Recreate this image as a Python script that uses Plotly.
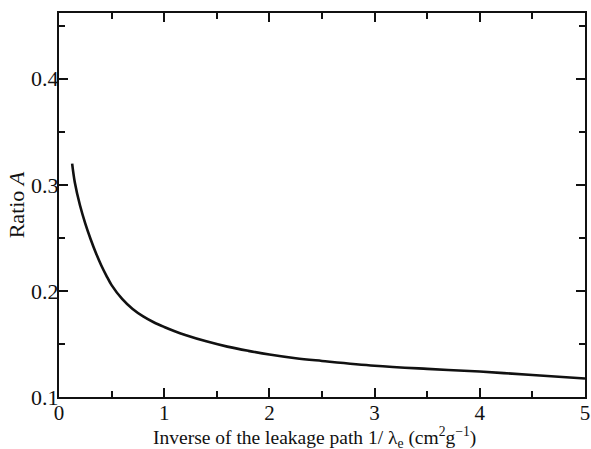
import plotly.graph_objects as go

inv_leak = [0.125, 0.15, 0.2, 0.25, 0.3, 0.35, 0.4, 0.45, 0.5, 0.6, 0.7, 0.8, 0.9, 1.0, 1.1, 1.2,
            1.4, 1.6, 1.8, 2.0, 2.25, 2.5, 3.0, 3.5, 4.0, 4.5, 5.0]
ratio_a = [0.320, 0.3025, 0.2805, 0.2635, 0.249, 0.236, 0.2245, 0.2145, 0.2055, 0.1925, 0.183, 0.176,
           0.1705, 0.166, 0.162, 0.1585, 0.1525, 0.1475, 0.1435, 0.140, 0.1365, 0.134, 0.1295, 0.1265,
           0.124, 0.1207, 0.1175]

x_ticks = [0, 1, 2, 3, 4, 5]
y_ticks = [0.1, 0.2, 0.3, 0.4]
y_tick_text = ["0.1", "0.2", "0.3", "0.4"]
x_title = "Inverse of the leakage path 1/ λ<sub>e</sub> (cm<sup>2</sup>g<sup>−1</sup>)"
y_title = "Ratio <i>A</i>"

font_family = "Liberation Serif, Times New Roman, serif"

fig = go.Figure()
fig.add_trace(go.Scatter(x=inv_leak, y=ratio_a, mode="lines",
                         line=dict(color="#111111", width=2.6, shape="spline", smoothing=1.0),
                         showlegend=False, hoverinfo="skip"))

axis_common = dict(
    showgrid=False, zeroline=False, showline=True, linecolor="#111111", linewidth=2,
    mirror="ticks", ticks="inside", ticklen=9, tickwidth=1.5, tickcolor="#111111",
    automargin=False,
)

fig.update_xaxes(range=[0, 5], tickvals=x_ticks,
                 tickfont=dict(family=font_family, size=21, color="#111111"),
                 minor=dict(ticks="inside", dtick=0.5, ticklen=6, tickwidth=1.5, tickcolor="#111111"),
                 ticklabelstandoff=-4,
                 **axis_common)
fig.update_yaxes(range=[0.1, 0.462], tickvals=y_ticks, ticktext=y_tick_text,
                 tickfont=dict(family=font_family, size=22, color="#111111"),
                 minor=dict(ticks="inside", dtick=0.05, tick0=0.1, ticklen=6, tickwidth=1.5, tickcolor="#111111"),
                 title=dict(text=y_title,
                            font=dict(family=font_family, size=22, color="#111111"), standoff=0),
                 ticklabelstandoff=-6,
                 **axis_common)

fig.add_annotation(text=x_title, xref="paper", yref="paper", x=0.485, y=-0.105,
                   xanchor="center", yanchor="middle", showarrow=False,
                   font=dict(family=font_family, size=19.5, color="#111111"))

fig.update_layout(
    width=591, height=449,
    margin=dict(l=59, r=6, t=13, b=52),
    paper_bgcolor="white", plot_bgcolor="white",
    font=dict(family=font_family, color="#111111"),
)

fig.write_html("out.html")
